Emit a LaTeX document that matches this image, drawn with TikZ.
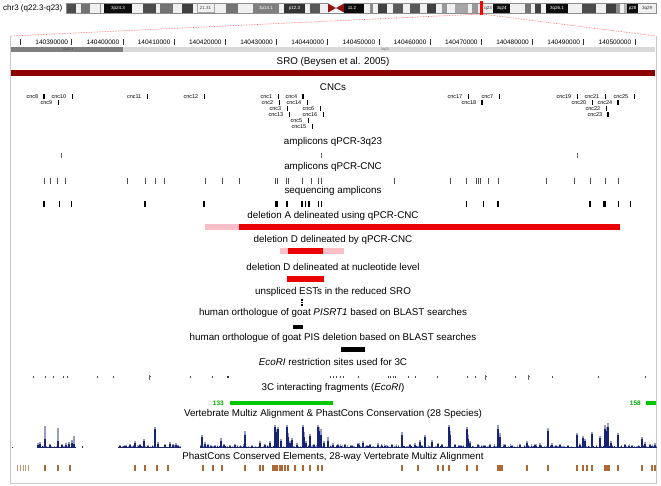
\documentclass[tikz,border=0pt]{standalone}
\usepackage{fontspec}
\setmainfont{Liberation Sans}
\definecolor{srored}{RGB}{140,0,0}
\definecolor{delred}{RGB}{235,0,0}
\definecolor{delpink}{RGB}{250,190,200}
\definecolor{cgreen}{RGB}{0,200,0}
\definecolor{consdark}{RGB}{25,35,115}
\definecolor{conslight}{RGB}{150,158,200}
\definecolor{pcbrown}{RGB}{175,105,55}
\definecolor{framegray}{RGB}{200,200,200}
\definecolor{cenred}{RGB}{150,20,20}
\newcommand\lblfont{\fontsize{9.8}{11}\selectfont}
\newcommand\rulfont{\fontsize{6.5}{7}\selectfont}
\newcommand\cncfont{\fontsize{5.5}{6}\selectfont}
\newcommand\bandfont{\fontsize{4.5}{5}\selectfont}
\begin{document}
\begin{tikzpicture}[x=1pt,y=-1pt,
  lbl/.style={font=\lblfont, inner sep=0, anchor=center},
  rul/.style={font=\rulfont, inner sep=0, anchor=east},
  cnc/.style={font=\cncfont, inner sep=0, anchor=east},
  bnd/.style={font=\bandfont, inner sep=0, anchor=center},
  tk/.style={line width=0.7pt, black!80}]
\useasboundingbox (0,0) rectangle (661,486);
\fill[white] (0,0) rectangle (661,486);

% title and ideogram
\node[anchor=west, font=\fontsize{8}{9}\selectfont, inner sep=0] (title) at (3,8) {chr3 (q22.3-q23)};
\fill[black!6] (66,3) rectangle (656,13);
\foreach \a/\b/\g in {66/76/70, 81/90/55, 100/101/40, 104/132/95, 143/156/70, 160/173/55, 182/193/75,
  226/238/55, 253/279/50, 284/305/80, 310/320/65, 340/364/95, 370/373/45, 378/387/75, 393/403/65,
  410/420/65, 427/436/75, 442/447/40, 455/468/35, 472/478/40, 493/510/95, 525/531/55, 535/541/75,
  546/568/95, 582/596/70, 606/616/75, 616/620/45, 624/627/30, 627/638/95}
  {\fill[black!\g] (\a,3) rectangle (\b,13);}
\draw[black!35, line width=0.4pt] (197,3.5) rectangle (214,12.5);
\draw[black!45, line width=0.5pt] (66,3) rectangle (656,13);
\fill[white] (328,3) rectangle (344,13);
\fill[cenred] (328,3.5) -- (336,8) -- (328,12.5) -- cycle;
\fill[cenred] (344,3.5) -- (336,8) -- (344,12.5) -- cycle;
\node[bnd, white] (b1) at (118,8) {3p24.3};
\node[bnd, black!70] (b2) at (205.5,8) {21.31};
\node[bnd, white] (b3) at (266,8) {3p14.1};
\node[bnd, white] (b4) at (294.5,8) {p12.3};
\node[bnd, white] (b5) at (352,8) {11.2};
\node[bnd, black!80] (b6) at (488,8) {q23};
\node[bnd, white] (b7) at (501.5,8) {3q24};
\node[bnd, white] (b8) at (557,8) {3q26.1};
\node[bnd, white] (b9) at (632.5,8) {p28};
\node[bnd, black!80] (b10) at (647,8) {3q29};
\fill[red] (480,1) rectangle (483,15);
\coordinate (zoomtop) at (481.5,14);
\coordinate (zoomL) at (11,36);
\coordinate (zoomR) at (656,36);
\draw[red!70, densely dotted, line width=0.6pt] (zoomtop) -- (zoomL);
\draw[red!70, densely dotted, line width=0.6pt] (zoomtop) -- (zoomR);

% frame
\draw[framegray, line width=0.9pt] (10.5,36) -- (10.5,483) -- (656.5,483) -- (656.5,36);

% ruler
\draw[tk] (20.5,39.5) -- (20.5,45);
\foreach \x/\lab in {71.7/140390000, 122.9/140400000, 174.1/140410000, 225.3/140420000,
  276.5/140430000, 327.7/140440000, 378.9/140450000, 430.1/140460000, 481.3/140470000,
  532.5/140480000, 583.7/140490000, 634.9/140500000}
  {\draw[tk] (\x,39.5) -- (\x,45); \node[rul] (r\lab) at (\x-3.5,42.5) {\lab};}

% cytoband track
\fill[black!50] (11,47) rectangle (123,52.5);
\fill[black!15] (123,47) rectangle (655,52.5);
\node[font=\fontsize{3.5}{4}\selectfont, inner sep=0, black!70] (cb1) at (68,49.8) {3q22.3};
\node[font=\fontsize{3.5}{4}\selectfont, inner sep=0, black!60] (cb2) at (385,49.8) {3q23};

% SRO
\node[lbl] (sro) at (333,62) {SRO (Beysen et al. 2005)};
\fill[srored] (11,70) rectangle (655,76);

% CNCs
\node[lbl] (cncs) at (333,87) {CNCs};
\foreach \x/\y/\n/\w in {44/97/cnc8/2, 72/97/cnc10/0.8, 58/103/cnc9/0.8, 147/97/cnc11/0.8, 204/97/cnc12/0.8,
  278/97/cnc1/0.8, 303/97/cnc4/2, 279/103/cnc2/0.8, 307/103/cnc14/0.8, 287/109/cnc3/0.8, 320/109/cnc6/0.8,
  289/115/cnc13/0.8, 323/115/cnc16/0.8, 308/121/cnc5/0.8, 312/127/cnc15/0.8,
  468/97/cnc17/0.8, 499/97/cnc7/0.8, 482/103/cnc18/2,
  577/97/cnc19/0.8, 605/97/cnc21/0.8, 634/97/cnc25/0.8, 592/103/cnc20/0.8, 618/103/cnc24/2,
  606/109/cnc22/0.8, 608/115/cnc23/2}
  {\fill[black] (\x-\w/2,\y-2.7) rectangle (\x+\w/2,\y+2.3);
   \node[cnc] (\n) at (\x-5.5,\y) {\n};}

% qPCR-3q23
\node[lbl] (q3) at (333,142) {amplicons qPCR-3q23};
\foreach \x in {61,321,577} {\draw[line width=0.6pt, black!60] (\x,153) -- (\x,158);}

% qPCR-CNC
\node[lbl] (qc) at (333,167) {amplicons qPCR-CNC};
\foreach \x in {44,50,57,65,127,145,155,164,205,222,239,275,277,286,288,302,311,318,321,394,450,466,476,478,480,488,498,546,574,590,605,618}
  {\draw[line width=0.6pt, black!70] (\x,178) -- (\x,184);}

% sequencing amplicons
\node[lbl] (seq) at (333,191) {sequencing amplicons};
\foreach \x/\w in {44/2, 59/1, 71/1, 145/1.5, 204/1.5, 276.5/3, 287/2.2, 302/1.5, 305.5/1.5, 309/1.5, 318/1, 321/1,
  466/1, 483/1, 498/1.5, 590/1.5, 604.5/3, 618/1, 630/1}
  {\fill[black] (\x-\w/2,201) rectangle (\x+\w/2,207);}

% deletion A
\node[lbl] (delA) at (333,216) {deletion A delineated using qPCR-CNC};
\fill[delpink] (205,224.5) rectangle (239,230);
\fill[delred] (239,224.5) rectangle (620,230);

% deletion D qPCR
\node[lbl] (delD) at (333,240) {deletion D delineated by qPCR-CNC};
\fill[delpink] (280,248.5) rectangle (344,254);
\fill[delred] (288,248.5) rectangle (323,254);

% deletion D nucleotide
\node[lbl] (delDn) at (333,267) {deletion D delineated at nucleotide level};
\fill[delred] (287,276.5) rectangle (324,282);

% ESTs
\node[lbl] (est) at (333,292) {unspliced ESTs in the reduced SRO};
\foreach \y in {298.8,301.6,304.4} {\fill[black] (301,\y) rectangle (303,\y+1.8);}

% PISRT1
\node[lbl] (pisrt) at (333,313) {human orthologue of goat \textit{PISRT1} based on BLAST searches};
\fill[black] (293,324.5) rectangle (303,329);

% PIS deletion
\node[lbl] (pis) at (333,338) {human orthologue of goat PIS deletion based on BLAST searches};
\fill[black] (341,347) rectangle (365,352);

% EcoRI
\node[lbl] (eco) at (333,362) {\textit{EcoRI} restriction sites used for 3C};
\foreach \x in {33,45,53,63,67,97,113,190,212,330,333,336,340,343,358,388,390,393,395,408,415,437,467,475,515,552,598,645}
  {\fill[black!70] (\x-0.5,376.3) rectangle (\x+0.5,377.5);}
\fill[black!80] (228-0.8,376) rectangle (228+0.8,377.6);
\foreach \x in {149,485,528} {\draw[black!60, line width=0.5pt] (\x,375) -- (\x,380); \fill[black!60] (\x+1.2,375.5) rectangle (\x+2,376.5);}

% 3C
\node[lbl] (c3) at (333,388) {3C interacting fragments (\textit{EcoRI})};
\fill[cgreen] (230,400.5) rectangle (333,405);
\node[font=\fontsize{6.5}{7}\selectfont\bfseries, text=cgreen!85!black, inner sep=0, anchor=east] (n133) at (224,403) {133};
\fill[cgreen] (646,400.5) rectangle (656,405);
\node[font=\fontsize{6.5}{7}\selectfont\bfseries, text=cgreen!85!black, inner sep=0, anchor=east] (n158) at (641,403) {158};

% conservation
\node[lbl] (vert) at (333,414) {Vertebrate Multiz Alignment \& PhastCons Conservation (28 Species)};
\pgfmathsetseed{17}
\foreach \a/\b/\m in {37/75/3, 118/180/2.5, 200/656/3.5}
  {\pgfmathtruncatemacro\c{\a+1}
   \foreach \x in {\a,\c,...,\b}
     {\pgfmathsetmacro\hl{0.2+rnd*rnd*rnd*\m*1.3}
      \pgfmathsetmacro\hd{\hl*(0.2+0.4*rnd)}
      \fill[conslight] (\x-0.5,447.3) rectangle (\x+0.5,447-\hl);
      \fill[consdark] (\x-0.5,447.3) rectangle (\x+0.5,447-\hd);}
   \draw[consdark, line width=0.6pt] (\a,447) -- (\b,447);}
\fill[consdark] (11.5,446.5) rectangle (12.5,447.5);
\fill[consdark] (81.5,445.5) rectangle (83,447.5);
\foreach \x/\hl/\hd in {38/4/2, 40/5/3, 45/21/8, 50/3/2, 58/19/6, 62/3/2, 66/4/2, 69/5/3, 72/7/4, 74/11/3,
  120/2/1, 125/2/1, 130/3/2, 135/6/4, 140/3/2, 144/8/6, 148/2/1, 155/20/18, 158/5/3, 165/3/2, 170/5/3, 173/3/2, 176/4/2, 178/2/1,
  202/12/10, 205/5/3, 208/3/2, 215/2/1, 221/9/6, 224/3/2, 230/2/1, 235/3/2, 245/16/12, 252/2/1, 260/6/4, 265/3/2, 270/6/4,
  275/22/20, 276.5/18/15, 278/20/18, 281/8/6, 287/22/20, 288.5/14/10, 290/6/4, 292/9/7, 297/4/2, 303/22/20, 304.5/15/10, 306/6/4, 310/13/11, 314/3/2, 318/22/20,
  319.5/20/16, 321/18/12, 324/6/4, 328/10/6,
  333/4/2, 338/3/2, 345/3/2, 352/2/1, 358/4/3, 363/6/4, 370/3/2, 378/4/2, 385/2/1, 392/3/2, 402/15/12, 410/3/2, 415/4/2,
  420/7/5, 425/12/10, 432/7/5, 438/4/3, 442/3/2, 449/22/20, 450.5/16/12, 455/3/2, 460/2/1, 467/20/18, 468.5/12/8, 470/6/4, 478/3/2, 485/2/1,
  490/3/2, 498/22/18, 500/14/10, 505/3/2, 512/2/1, 520/3/2, 527/6/4, 535/3/2, 540/4/2, 548/19/16, 552/4/2, 560/3/2,
  568/2/1, 577/14/12, 583/11/9, 585/8/6, 592/15/13, 600/11/9, 605/22/18, 606.5/20/16, 608/24/20, 611/6/4, 618/14/12, 625/3/2,
  632/2/1, 642/10/8, 645/5/3, 650/3/2, 655/4/2}
  {\fill[conslight] (\x-0.7,447) rectangle (\x+0.7,447-\hl);
   \fill[consdark] (\x-0.7,447) rectangle (\x+0.7,447-\hd);}

% phastcons elements
\node[lbl] (pc) at (333,457) {PhastCons Conserved Elements, 28-way Vertebrate Multiz Alignment};
\foreach \x in {17,20,23,25.5,28} {\fill[pcbrown!70] (\x-0.4,465) rectangle (\x+0.4,471);}
\foreach \x in {45,58,70,135,145,157,168,203,213,222,245,260,263,273,275,277,280,282,285,288,295,303,310,318,322,
  402,418,438,443,449,467,477,498,500,502,527,548,577,583,587,592,605,607,609,618,642,652,655}
  {\fill[pcbrown] (\x-0.7,465) rectangle (\x+0.7,471);}
\end{tikzpicture}
\end{document}
